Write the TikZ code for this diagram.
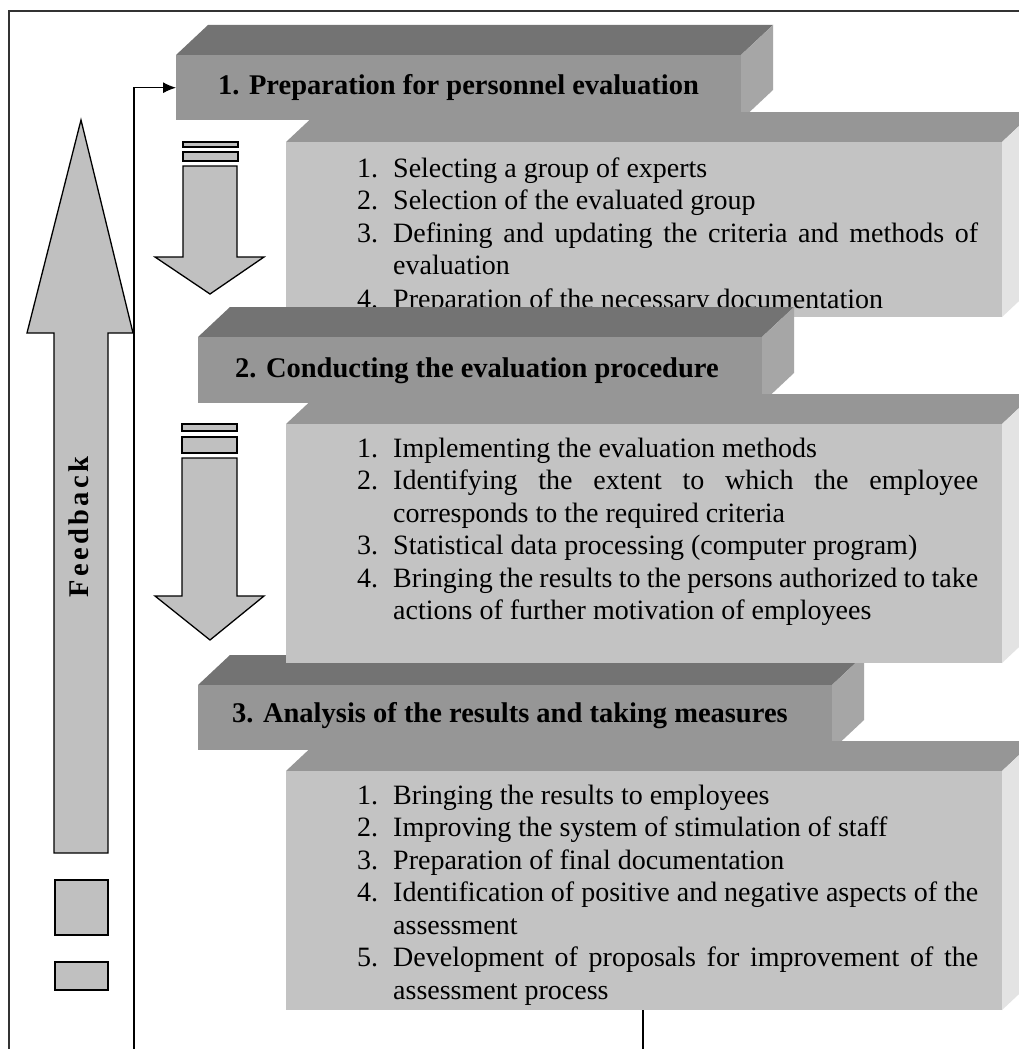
\documentclass[tikz,border=0pt]{standalone}
\usepackage{fontspec}
\setmainfont{Liberation Serif}
\usetikzlibrary{arrows.meta}
\definecolor{hfrontc}{gray}{0.59}
\definecolor{htopc}{gray}{0.45}
\definecolor{hsidec}{gray}{0.65}
\definecolor{bfrontc}{gray}{0.765}
\definecolor{btopc}{gray}{0.59}
\definecolor{bsidec}{gray}{0.89}
\definecolor{arrowc}{gray}{0.753}
\definecolor{framec}{gray}{0.2}
\newcommand\bodyfont{\fontsize{28}{32}\selectfont}
\newcommand\headfont{\fontsize{28.5}{32}\selectfont\bfseries}
\newcommand\jline[1]{\makebox[585pt][s]{#1}}
% top and side faces of a block: x1 y1 x2 y2 topcolour sidecolour
\newcommand\blockfaces[6]{%
  \fill[#5] (#1,#2) -- ({#1+32},{#2-30}) -- ({#3+32},{#2-30}) -- (#3,#2) -- cycle;
  \fill[#6] (#3,#2) -- ({#3+32},{#2-30}) -- ({#3+32},{#4-30}) -- (#3,#4) -- cycle;
}
\tikzset{
  hfront/.style={fill=hfrontc, inner sep=0pt, anchor=north west},
  bfront/.style={fill=bfrontc, inner sep=0pt, anchor=north west},
  num/.style={anchor=base west, inner sep=0pt, font=\bodyfont},
  itm/.style={anchor=base west, inner sep=0pt, font=\bodyfont},
  htext/.style={anchor=base west, inner sep=0pt, font=\headfont},
  bigarrow/.style={fill=arrowc, draw=black, line width=1.3pt, line join=miter},
  conn/.style={draw=black, line width=1.2pt},
}
\begin{document}
\begin{tikzpicture}[x=1pt, y=-1pt]
\useasboundingbox (0,0) rectangle (1019,1049);
\clip (0,0) rectangle (1019,1049);
\fill[white] (0,0) rectangle (1019,1049);

% frame
\draw[framec, line width=1.2pt] (9,1049) -- (9,11) -- (1019,11);

% ---------- Header 1 ----------
\blockfaces{176}{55}{741}{120}{htopc}{hsidec}
\node[hfront, minimum width=565pt, minimum height=65pt] (h1) at (176,55) {};
\node[htext] (h1t) at (218,94) {1. Preparation for personnel evaluation};

% ---------- Body 1 ----------
\blockfaces{286}{142}{1002}{317}{btopc}{bsidec}
\node[bfront, minimum width=716pt, minimum height=175pt] (b1) at (286,142) {};
\begin{scope}
\clip (286,142) rectangle (1002,309);
\node[num] (b1n1) at (357,177) {1.};
\node[itm] (b1i1) at (393,177) {Selecting a group of experts};
\node[num] (b1n2) at (357,209.5) {2.};
\node[itm] (b1i2) at (393,209.5) {Selection of the evaluated group};
\node[num] (b1n3) at (357,242) {3.};
\node[itm] (b1i3) at (393,242) {\jline{Defining and updating the criteria and methods of}};
\node[itm] (b1i3b) at (393,274.5) {evaluation};
\node[num] (b1n4) at (357,308) {4.};
\node[itm] (b1i4) at (393,308) {Preparation of the necessary documentation};
\end{scope}

% ---------- Header 2 ----------
\blockfaces{198}{337}{762}{403}{htopc}{hsidec}
\node[hfront, minimum width=564pt, minimum height=66pt] (h2) at (198,337) {};
\node[htext] (h2t) at (235,377) {2. Conducting the evaluation procedure};

% ---------- Header 3 ----------
\blockfaces{198}{685}{832}{750}{htopc}{hsidec}
\node[hfront, minimum width=634pt, minimum height=65pt] (h3) at (198,685) {};
\node[htext] (h3t) at (232,722) {3. Analysis of the results and taking measures};

% ---------- Body 2 ----------
\blockfaces{286}{424}{1002}{663}{btopc}{bsidec}
\node[bfront, minimum width=716pt, minimum height=239pt] (b2) at (286,424) {};
\node[num] (b2n1) at (357,457) {1.};
\node[itm] (b2i1) at (393,457) {Implementing the evaluation methods};
\node[num] (b2n2) at (357,489.5) {2.};
\node[itm] (b2i2) at (393,489.5) {\jline{Identifying the extent to which the employee}};
\node[itm] (b2i2b) at (393,522) {corresponds to the required criteria};
\node[num] (b2n3) at (357,554.5) {3.};
\node[itm] (b2i3) at (393,554.5) {Statistical data processing (computer program)};
\node[num] (b2n4) at (357,587) {4.};
\node[itm] (b2i4) at (393,587) {\jline{Bringing the results to the persons authorized to take}};
\node[itm] (b2i4b) at (393,619.5) {actions of further motivation of employees};

% ---------- Body 3 ----------
\blockfaces{286}{771}{1002}{1010}{btopc}{bsidec}
\node[bfront, minimum width=716pt, minimum height=239pt] (b3) at (286,771) {};
\node[num] (b3n1) at (357,804) {1.};
\node[itm] (b3i1) at (393,804) {Bringing the results to employees};
\node[num] (b3n2) at (357,836.5) {2.};
\node[itm] (b3i2) at (393,836.5) {Improving the system of stimulation of staff};
\node[num] (b3n3) at (357,869) {3.};
\node[itm] (b3i3) at (393,869) {Preparation of final documentation};
\node[num] (b3n4) at (357,901.5) {4.};
\node[itm] (b3i4) at (393,901.5) {\jline{Identification of positive and negative aspects of the}};
\node[itm] (b3i4b) at (393,934) {assessment};
\node[num] (b3n5) at (357,966.5) {5.};
\node[itm] (b3i5) at (393,966.5) {\jline{Development of proposals for improvement of the}};
\node[itm] (b3i5b) at (393,999) {assessment process};

% ---------- Down arrows ----------
\draw[bigarrow] (183,142) rectangle (238,147);
\draw[bigarrow] (183,152) rectangle (238,161);
\draw[bigarrow] (183,166) -- (183,257) -- (155,257) -- (210,294) -- (264,257) -- (237,257) -- (237,166) -- cycle;

\draw[bigarrow] (182,424) rectangle (237,431);
\draw[bigarrow] (182,437) rectangle (237,453);
\draw[bigarrow] (182,458) -- (182,596) -- (155,596) -- (210,640) -- (264,596) -- (237,596) -- (237,458) -- cycle;

% ---------- Feedback arrow ----------
\draw[bigarrow] (54,853) -- (54,333) -- (27,333) -- (81,120) -- (133,333) -- (108,333) -- (108,853) -- cycle;
\node[rotate=90, inner sep=0pt, font=\fontsize{28.5}{32}\selectfont\bfseries\addfontfeature{LetterSpace=12}] (fbtext) at (79,527) {Feedback};
\draw[bigarrow] (55,880) rectangle (108,935);
\draw[bigarrow] (55,962) rectangle (108,990);

% ---------- connectors ----------
\coordinate (fbbot) at (134,1049);
\draw[conn, -{Latex[length=13pt,width=11pt]}] (fbbot) |- (h1.west);
\coordinate (outbot) at (643,1049);
\draw[conn] (b3.south -| outbot) -- (outbot);
\end{tikzpicture}
\end{document}
